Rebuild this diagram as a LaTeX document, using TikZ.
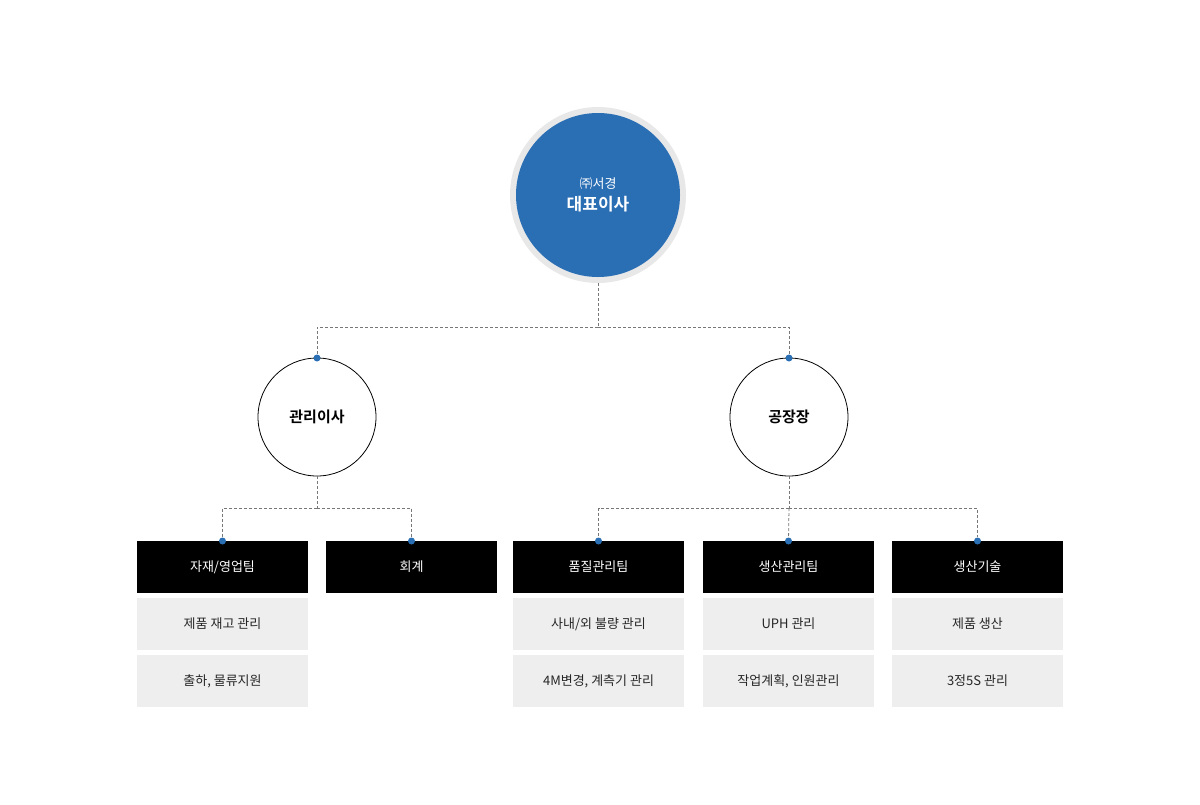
\documentclass[tikz,border=0pt]{standalone}
\usepackage{fontspec}
\setmainfont{Noto Sans CJK KR}
\newfontfamily\krbold{Noto Sans CJK KR Bold}
\definecolor{mainblue}{HTML}{2A6EB4}
\definecolor{ringgray}{HTML}{E8E8E8}
\definecolor{boxgray}{HTML}{EEEEEE}
\definecolor{dashgray}{HTML}{777777}
\begin{document}
\begin{tikzpicture}[x=1pt,y=-1pt,
  conn/.style={draw=dashgray,densely dashed,line width=0.8pt},
  dotn/.style={circle,fill=mainblue,inner sep=0pt,minimum size=7pt},
  roleC/.style={circle,draw=black,line width=0.8pt,minimum size=118pt,inner sep=0pt,font=\krbold\fontsize{15}{18}\selectfont},
  headbox/.style={fill=black,text=white,minimum width=171pt,minimum height=52pt,inner sep=0pt,font=\fontsize{13}{16}\selectfont},
  taskbox/.style={fill=boxgray,text=black!85,minimum width=171pt,minimum height=52pt,inner sep=0pt,font=\fontsize{13}{16}\selectfont}]
\useasboundingbox (0,0) rectangle (1200,804);
\node[circle,fill=ringgray,minimum size=176pt,inner sep=0pt] (ring) at (598,195) {};
\node[circle,fill=mainblue,minimum size=164pt,inner sep=0pt,text=white,align=center] (ceo) at (598,195)
 {{\fontsize{13}{16}\selectfont ㈜서경}\\[6pt]{\krbold\fontsize{17}{20}\selectfont 대표이사}};
\node[roleC] (m) at (317,417) {관리이사};
\node[roleC] (f) at (789,417) {공장장};
\node[dotn] (dm) at (317,358) {};
\node[dotn] (df) at (789,358) {};
\coordinate (j1) at (598,327);
\draw[conn] (ring.south) -- (j1);
\draw[conn] (j1) -| (dm);
\draw[conn] (j1) -| (df);
\node[headbox] (h1) at (222.5,567) {자재/영업팀};
\node[headbox] (h2) at (411.5,567) {회계};
\node[headbox] (h3) at (598.5,567) {품질관리팀};
\node[headbox] (h4) at (788.5,567) {생산관리팀};
\node[headbox] (h5) at (977.5,567) {생산기술};
\foreach \i/\x in {1/222.5,2/411.5,3/598.5,4/788.5,5/977.5}{\node[dotn] (d\i) at (\x,541) {};}
\coordinate (j2) at (317,508);
\coordinate (j3) at (789,508);
\draw[conn] (m.south) -- (j2);
\draw[conn] (j2) -| (d1);
\draw[conn] (j2) -| (d2);
\draw[conn] (f.south) -- (j3);
\draw[conn] (j3) -| (d3);
\draw[conn] (j3) -| (d5);
\draw[conn] (j3) -- (d4);
\node[taskbox] (t1a) at (222.5,624) {제품 재고 관리};
\node[taskbox] (t1b) at (222.5,681) {출하, 물류지원};
\node[taskbox] (t3a) at (598.5,624) {사내/외 불량 관리};
\node[taskbox] (t3b) at (598.5,681) {4M변경, 계측기 관리};
\node[taskbox] (t4a) at (788.5,624) {UPH 관리};
\node[taskbox] (t4b) at (788.5,681) {작업계획, 인원관리};
\node[taskbox] (t5a) at (977.5,624) {제품 생산};
\node[taskbox] (t5b) at (977.5,681) {3정5S 관리};
\end{tikzpicture}
\end{document}
